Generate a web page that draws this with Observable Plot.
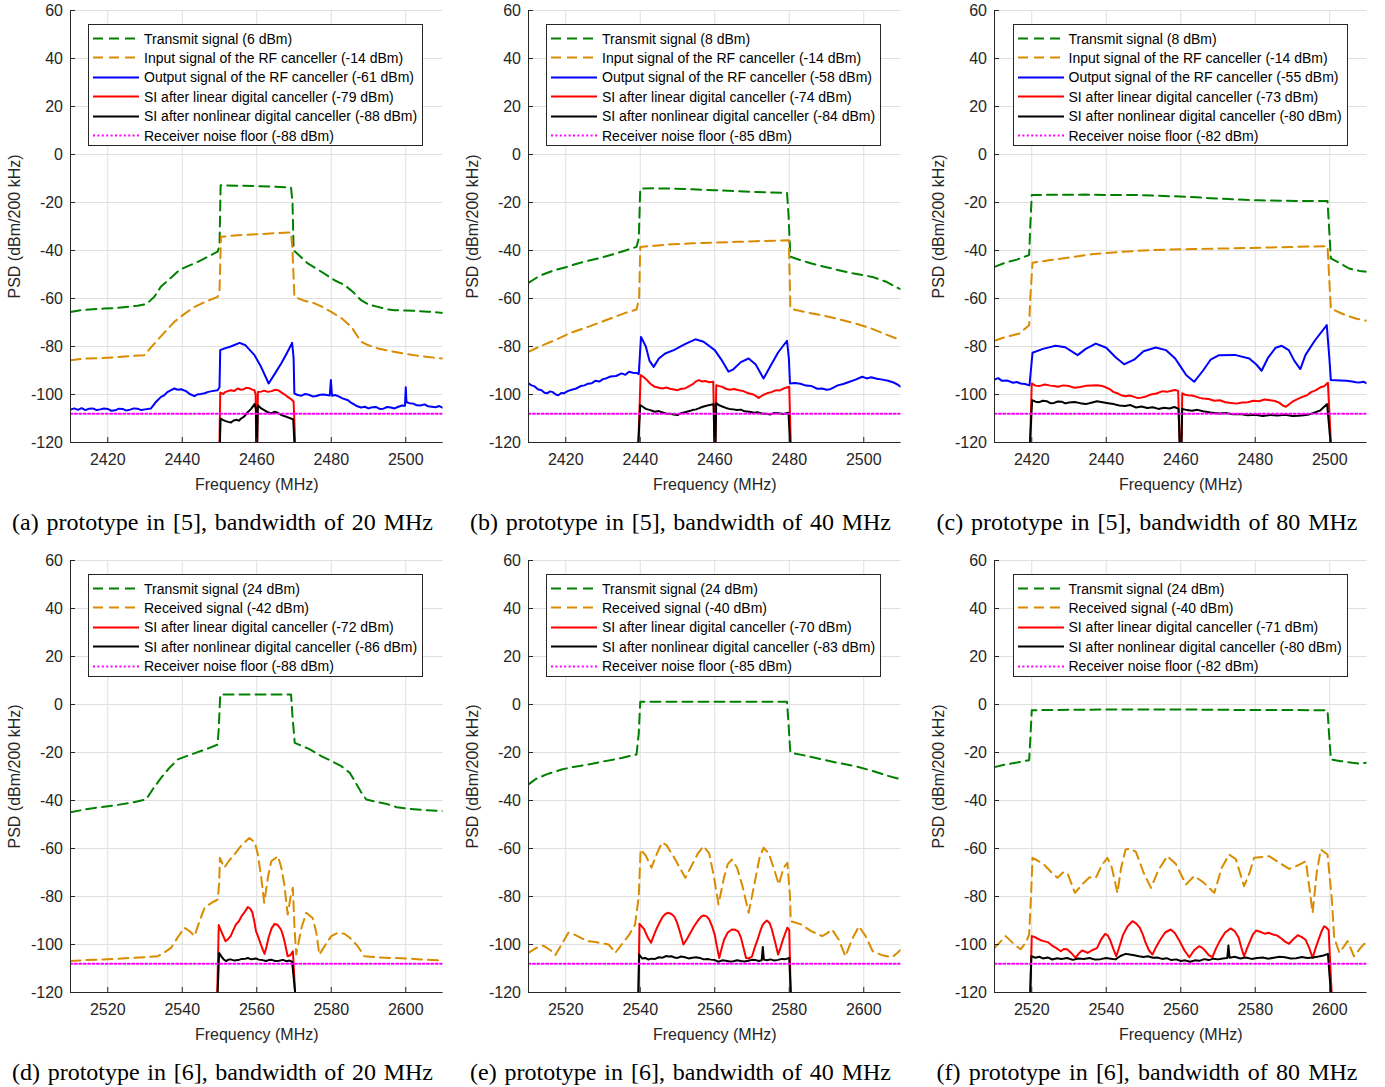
<!DOCTYPE html>
<html><head><meta charset="utf-8">
<script src="https://cdn.jsdelivr.net/npm/d3@7"></script>
<script src="https://cdn.jsdelivr.net/npm/@observablehq/plot@0.6"></script>
<style>
body{margin:0;background:#fff;}
#wrap{position:relative;width:1385px;height:1087px;overflow:hidden;background:#fff;}
.panel{position:absolute;}
.legend{position:absolute;border:1px solid #262626;background:#fff;box-sizing:border-box;font-family:"Liberation Sans",Arial,sans-serif;font-size:14px;color:#000;}
.row{position:absolute;left:0;height:19px;display:flex;align-items:center;white-space:nowrap;}
.row svg{margin-left:4px;margin-right:5px;}
.cap{position:absolute;font-family:"Liberation Serif","Times New Roman",serif;font-size:24px;line-height:28px;text-align:justify;text-align-last:justify;white-space:nowrap;color:#000;}
</style></head><body><div id="wrap"></div><script>
// ---------- ticks ----------
const yTicks = [-120,-100,-80,-60,-40,-20,0,20,40,60];
const xTicksTop = [2420,2440,2460,2480,2500];
const xTicksBot = [2520,2540,2560,2580,2600];
const xDomTop = [2410,2510];
const xDomBot = [2510,2610];

// ---------- panel (a) ----------
const aTx = [[2410,-65.6],[2413,-64.8],[2416,-64.5],[2419,-64.2],[2422,-64],[2425,-63.5],[2428,-63],[2430.3,-62.4],[2432.5,-59.3],[2434.3,-55],[2436.5,-52],[2439.2,-48.2],[2441.5,-46.5],[2444.2,-44.7],[2446.9,-42.6],[2449.5,-40.5],[2450,-38],[2450.3,-12.8],[2455,-13],[2460.3,-13.2],[2465,-13.4],[2469.2,-13.75],[2469.6,-20],[2469.9,-39.9],[2473.7,-45.4],[2476,-47.5],[2479,-50.5],[2481,-52.5],[2483.6,-54.4],[2486,-57.5],[2488,-60.7],[2490,-62.5],[2492.5,-63.5],[2495,-64.5],[2497,-64.9],[2500,-65],[2503,-65.2],[2506,-65.5],[2510,-66]];
const aIn = [[2410,-85.7],[2414,-85],[2418,-84.8],[2422,-84.5],[2426,-84],[2429.8,-83.6],[2432.5,-78.8],[2435,-74.5],[2437.9,-69.7],[2440.5,-66.5],[2443.3,-63.5],[2446,-61.5],[2449.5,-59.3],[2450,-57],[2450.4,-34.3],[2455,-33.6],[2460.3,-33.2],[2465,-32.8],[2469.2,-32.5],[2469.6,-40],[2470.1,-59.3],[2472.5,-60.8],[2475.5,-62],[2478,-63.8],[2480,-65.6],[2483,-68.5],[2485.4,-71.8],[2488,-78],[2490,-79.5],[2492.5,-80.8],[2496,-82],[2499.7,-83],[2503,-83.8],[2506,-84.4],[2510,-85]];
const aOut = [[2410,-106.3],[2411,-105.8],[2412,-106.4],[2413,-105.7],[2414,-106.5],[2415,-105.9],[2416,-105.8],[2417,-106.5],[2418,-106.2],[2419,-105.8],[2420,-106],[2421,-106.8],[2422,-106.6],[2423,-105.9],[2424,-106],[2425,-106.7],[2426,-106.3],[2427,-105.8],[2428,-105.9],[2429,-106.5],[2430,-106.2],[2431.6,-105.8],[2432.5,-104],[2433,-103],[2434.3,-101],[2435,-100.5],[2436,-99],[2437,-98.2],[2437.9,-97.5],[2438.8,-98],[2439.7,-97.8],[2441,-98.6],[2442,-99.8],[2443.3,-100.7],[2444,-100],[2445,-99.8],[2446,-99.5],[2447,-98.9],[2448,-98.6],[2449.5,-98.2],[2450,-97],[2450.2,-81.5],[2451,-81],[2453,-80],[2455.4,-78.5],[2457,-79.5],[2459.4,-83.6],[2461,-88],[2463.2,-95.4],[2465,-91],[2466.6,-87],[2468,-83],[2469.5,-78.5],[2469.9,-85],[2470.1,-99.6],[2471,-100.2],[2472,-100.5],[2473,-99.8],[2474,-100.1],[2475,-100.8],[2476,-100.6],[2477,-100.1],[2478,-100],[2479.6,-100.4],[2479.9,-94],[2480.2,-100.5],[2481,-100.2],[2482,-100.8],[2483,-101.6],[2484.5,-102.4],[2485.3,-103.4],[2486,-104],[2487,-104.9],[2488,-105.4],[2489,-105.1],[2490,-105.8],[2491,-105.3],[2492,-105.2],[2493,-106],[2494,-105.9],[2495,-105.2],[2496,-105.4],[2497,-105.8],[2498,-105.1],[2499,-104.6],[2499.8,-104.7],[2500,-97],[2500.2,-103.2],[2501,-103.6],[2502,-103.8],[2503,-104.5],[2504,-104.6],[2505,-104.1],[2506,-104.9],[2507,-105.1],[2508,-105.3],[2509,-104.8],[2510,-105.6]];
const aLin = [[2450,-120],[2450.2,-99.2],[2451,-99.8],[2451.5,-99],[2452.2,-98.6],[2453,-98.2],[2454,-98.5],[2454.9,-97.5],[2455.7,-98],[2456.5,-97.8],[2457.2,-97.2],[2458,-97.4],[2458.7,-97.9],[2459.4,-98.2],[2459.7,-100],[2459.85,-120],[2460.15,-120],[2460.3,-99],[2461.2,-98.8],[2462,-98.4],[2463,-98.9],[2464,-98.6],[2465,-98],[2465.7,-98.2],[2466.4,-98.9],[2467,-99.5],[2467.7,-100.2],[2468.3,-101],[2469.3,-102],[2469.9,-103],[2470.3,-120]];
const aNl = [[2450.1,-120],[2450.3,-110],[2451,-110.7],[2451.5,-111],[2452.3,-111.4],[2453.1,-111.7],[2453.8,-110.8],[2454.5,-110.5],[2455.2,-110.9],[2455.8,-110],[2456.6,-109.2],[2457.5,-107.5],[2458.5,-106],[2459.4,-104],[2459.8,-106],[2459.9,-120],[2460.1,-120],[2460.3,-104.5],[2461.2,-105.8],[2462,-106.5],[2463,-107.4],[2463.9,-107.9],[2464.7,-107.2],[2465.5,-107.5],[2466.3,-108.3],[2467,-108.8],[2468,-109.3],[2469.2,-110],[2469.8,-110.5],[2470.1,-120]];
const aNoise = [[2410,-108],[2510,-108]];

// ---------- panel (b) ----------
const bTx = [[2410,-53.5],[2413,-50.5],[2417,-48.2],[2420,-47],[2423,-45.5],[2426,-44.3],[2430,-42.8],[2433.3,-41.3],[2436,-40],[2439,-38.5],[2439.6,-35],[2440,-14.2],[2444,-14.1],[2448.5,-14.2],[2454,-14.5],[2460,-14.9],[2466,-15.3],[2471,-15.6],[2475,-15.8],[2479.4,-16],[2479.8,-25],[2480.3,-42.6],[2483,-44],[2486,-45.4],[2490,-47],[2493.3,-48.2],[2497,-49.5],[2502.3,-51],[2506,-53],[2509.4,-55.8],[2510,-56]];
const bIn = [[2410,-82.2],[2413,-80],[2417,-77.4],[2421,-74.5],[2426,-71.8],[2430,-69.5],[2433.3,-67.6],[2436,-66],[2439,-64.6],[2439.7,-60],[2440,-38.5],[2444,-38],[2448.5,-37.4],[2454,-37],[2460,-36.7],[2466,-36.4],[2471,-36.1],[2476,-35.9],[2479.9,-35.7],[2480.1,-50],[2480.3,-64.2],[2484,-65.6],[2488.8,-67],[2493,-68.5],[2497.8,-70.4],[2502,-72.5],[2506,-75],[2510,-77.4]];
const bOut = [[2410,-95.4],[2410.8,-96.2],[2411.5,-96.5],[2412.5,-97.8],[2413.5,-98.2],[2414.3,-99.3],[2415,-99.5],[2415.8,-98.7],[2416.5,-99],[2417.3,-100],[2418,-100.3],[2418.8,-99.4],[2419.5,-99.5],[2420.5,-98.6],[2421.6,-98],[2422.8,-97.5],[2424,-96.5],[2425,-96.2],[2426,-95.5],[2427,-95.3],[2427.9,-94.3],[2429,-94.6],[2430,-93.6],[2431,-93.2],[2432,-92.5],[2433.5,-92.3],[2435,-91.2],[2436,-91.8],[2437,-90.5],[2438,-90.9],[2439,-91],[2439.6,-91.5],[2440.2,-76],[2441.5,-80],[2442.5,-86],[2443.6,-88.5],[2445,-85],[2446.7,-82.9],[2449,-81.5],[2452,-79],[2454.8,-77],[2457,-78],[2460,-81.5],[2462,-86],[2463.7,-90.5],[2465,-89.5],[2467,-86.5],[2469.1,-85],[2471,-87.5],[2473.1,-93.3],[2475,-88],[2477,-82.5],[2479.4,-77.6],[2479.9,-85],[2480.2,-95.4],[2481.5,-95.2],[2483,-95.5],[2484.5,-96.3],[2486,-96.5],[2487.5,-97.6],[2488.8,-97.5],[2490,-98],[2491,-97.8],[2492,-97],[2493,-96.2],[2494.5,-95.6],[2496,-94.8],[2497.8,-93.8],[2499.6,-92.6],[2500.8,-93.3],[2502,-92.8],[2503.5,-93.4],[2505,-93.8],[2506.5,-94.3],[2508,-95],[2509,-95.8],[2510,-96.8]];
const bLin = [[2439.5,-120],[2440.1,-91.9],[2440.8,-92.6],[2441.5,-93.5],[2442.7,-95.5],[2443.9,-96.8],[2445,-97.2],[2446,-97.5],[2447,-97.1],[2448,-97.6],[2449,-97.9],[2450,-98.2],[2451,-97.6],[2452,-97.5],[2453,-96.6],[2454,-95.8],[2455,-94.5],[2455.7,-94],[2456.6,-94.6],[2457.5,-94.4],[2458.5,-94.9],[2459.6,-94.7],[2459.9,-120],[2460.2,-120],[2460.4,-96.1],[2461.2,-96.5],[2462,-96.8],[2463,-97.6],[2464,-98],[2465.2,-97.7],[2466.5,-98.2],[2467.7,-98.6],[2469,-99.5],[2470.4,-100],[2471.8,-101.4],[2473,-100.2],[2474,-99.5],[2475.2,-99],[2476.5,-98.2],[2477.5,-98.3],[2478.5,-97.5],[2479.3,-97.1],[2480,-96.8],[2480.4,-120]];
const bNl = [[2439.5,-120],[2440,-104.4],[2440.8,-105.2],[2441.5,-106],[2442.7,-106.5],[2443.9,-107.2],[2445,-106.9],[2446,-107.5],[2447,-107.9],[2448,-108],[2449,-108.3],[2450,-108.6],[2451,-107.8],[2452,-107.4],[2453,-107],[2454,-106.5],[2455,-106.2],[2455.7,-105.8],[2456.6,-105.2],[2457.5,-104.8],[2458.6,-104.4],[2459.7,-104],[2459.9,-120],[2460.2,-120],[2460.4,-103.6],[2461.2,-104.5],[2462,-105],[2463,-105.6],[2463.9,-106],[2465,-106.2],[2466,-106.5],[2467,-106.3],[2468,-107],[2469.3,-107.2],[2470.6,-107.6],[2471.5,-107.4],[2472.5,-107.9],[2473.8,-108],[2475,-108.3],[2476,-107.7],[2477,-107.8],[2478.5,-108.1],[2479.8,-107.6],[2480.2,-120]];
const bNoise = [[2410,-108],[2510,-108]];

// ---------- panel (c) ----------
const cTx = [[2410,-46.8],[2413,-45],[2416,-43.8],[2419.3,-41.9],[2419.6,-30],[2420,-16.9],[2425,-16.8],[2434.5,-16.7],[2442,-16.9],[2448,-16.9],[2454,-17.2],[2461.4,-17.6],[2468,-18.2],[2474.8,-18.75],[2481,-19.1],[2488,-19.3],[2494,-19.35],[2499.4,-19.4],[2499.8,-30],[2500.3,-43.3],[2503,-45.5],[2505.2,-47.5],[2508,-48.5],[2510,-48.9]];
const cIn = [[2410,-77.6],[2413,-76],[2416.7,-74.6],[2419.3,-71.1],[2419.6,-60],[2420.2,-45.1],[2425,-44],[2430,-42.9],[2436,-41.6],[2443.5,-40.6],[2450,-40],[2456.9,-39.6],[2463,-39.4],[2470.3,-39.2],[2477,-39],[2483.7,-38.75],[2491,-38.5],[2499.4,-38.2],[2499.8,-50],[2500.3,-64.2],[2504.3,-67],[2507,-68.3],[2510,-69.3]];
const cOut = [[2410,-93.75],[2411,-93.2],[2412,-94.3],[2413.5,-94.2],[2415,-95.1],[2416,-94.8],[2417,-95.4],[2418.2,-95.6],[2419.4,-96.2],[2420.2,-82.6],[2423,-81],[2426.4,-79.7],[2429,-80.3],[2432.3,-83.6],[2434.5,-81],[2437.2,-78.8],[2440,-80.5],[2442.5,-84.5],[2444.8,-87.4],[2447.5,-85.5],[2450,-82],[2453.3,-80.4],[2456,-81.5],[2458.5,-85],[2460,-88.5],[2461.5,-92],[2463.6,-94.7],[2466,-90],[2468,-85.5],[2470.3,-83.6],[2474.5,-83.5],[2478.4,-85],[2480.3,-87.5],[2481.7,-90.1],[2483.5,-84.5],[2485.5,-80.5],[2487.1,-79.7],[2489,-81.5],[2490.5,-86],[2492.1,-89.4],[2493.5,-83.5],[2496,-77.5],[2499.2,-71.1],[2499.9,-85],[2500.3,-94],[2501.5,-94.1],[2503,-94.2],[2504.5,-94.3],[2506,-94.6],[2507,-94.9],[2508,-95],[2509,-94.7],[2510,-95.4]];
const cLin = [[2419.55,-120],[2420,-95.4],[2421,-96.3],[2422,-96.5],[2423.5,-95.8],[2425,-96.3],[2426,-96.5],[2427,-96.8],[2428.5,-96.2],[2430,-96.5],[2431.5,-97.2],[2433,-96.9],[2434.5,-96.4],[2436,-96.2],[2437.5,-96.1],[2439,-96.5],[2440,-97.1],[2441,-97.8],[2442,-99],[2443,-99.5],[2444,-100.3],[2445.2,-100.7],[2446.3,-100.4],[2447.5,-101],[2448.5,-101.5],[2449.4,-101.3],[2450.7,-100.8],[2452,-100],[2453.5,-99.6],[2455.1,-98.6],[2456.3,-98.9],[2457.5,-98.4],[2458.5,-98.1],[2459.3,-98.5],[2459.7,-120],[2460.2,-120],[2460.4,-99.5],[2461.2,-100.1],[2462,-100.3],[2463,-100.4],[2464,-100.8],[2465,-101.4],[2466,-101.7],[2467.5,-101.9],[2469,-102.6],[2470.5,-102.4],[2472,-103.2],[2473.5,-103.5],[2475,-103.8],[2476.5,-103.3],[2478,-103.2],[2479.5,-102.6],[2481,-102.8],[2482.5,-102.1],[2484,-102.4],[2485.3,-102.7],[2486.5,-103.5],[2487.4,-104.6],[2488.2,-105.1],[2489,-104.2],[2490,-103],[2491.2,-102],[2492.6,-101],[2493.8,-100.4],[2495,-99],[2496.2,-98.3],[2497.5,-97],[2498.5,-96.6],[2499.5,-95.1],[2500.3,-120]];
const cNl = [[2419.55,-120],[2420.1,-102.4],[2421,-103],[2422,-103.2],[2423,-102.6],[2424,-102.8],[2425,-103.6],[2426,-103.5],[2427,-102.9],[2428,-103],[2429,-103.7],[2430,-103.3],[2431.5,-103.1],[2433,-103.6],[2434.5,-104],[2436,-103.4],[2437.5,-102.8],[2439,-103.2],[2440.5,-103.6],[2442,-104],[2443.5,-104.6],[2445,-104.8],[2446.5,-104.4],[2448,-105.4],[2449.5,-105],[2451,-105.6],[2452.5,-105.3],[2454,-106],[2455.5,-105.5],[2457,-105.8],[2458.3,-105.2],[2459.4,-106],[2459.7,-120],[2460.2,-120],[2460.4,-106],[2461.7,-106.5],[2463,-106.8],[2464.5,-106.4],[2466,-107],[2468,-107.5],[2470.3,-107.9],[2472,-107.7],[2474,-108.2],[2476,-108.1],[2478,-108.6],[2480,-108.4],[2482,-109],[2484,-108.5],[2486,-108.8],[2488,-108.4],[2490,-109],[2491.5,-108.9],[2493,-108.6],[2494.5,-108.3],[2496,-107.5],[2497.5,-106.6],[2499.3,-104],[2500.2,-120]];
const cNoise = [[2410,-108],[2510,-108]];

// ---------- panel (d) ----------
const dTx = [[2510,-44.9],[2513,-44],[2516,-43.2],[2519,-42.6],[2522,-42],[2526,-41],[2530.3,-39.6],[2532,-35.5],[2534.3,-30.6],[2536.5,-26.5],[2538.8,-22.9],[2542,-21],[2545,-19.4],[2547,-18.3],[2549.5,-16.7],[2549.8,-10],[2550.2,4.2],[2555,4.2],[2560,4.2],[2565,4.2],[2569.2,4.2],[2569.6,-5],[2570.2,-16],[2574,-18.5],[2577.3,-21.5],[2580,-23.5],[2582.7,-25.7],[2585,-28.5],[2586.3,-31.9],[2588,-36.5],[2589.4,-39.6],[2592,-40.5],[2595,-41.5],[2597.6,-42.8],[2601,-43.5],[2605,-44],[2610,-44.4]];
const dRx = [[2510,-106.9],[2514,-106.5],[2518,-106.3],[2522,-106],[2526,-105.6],[2530,-105.3],[2533.4,-104.9],[2535,-103.5],[2537,-101.4],[2538.8,-97],[2540.6,-93],[2542,-94.5],[2543.3,-96.5],[2544.7,-90],[2546,-84.7],[2548,-82.5],[2549.5,-81.25],[2549.9,-75],[2550.1,-63.9],[2551.3,-68],[2552.6,-65],[2554,-62.5],[2556,-58.5],[2558,-55.6],[2559.5,-57.5],[2560.3,-62.5],[2561.2,-72],[2562,-82.6],[2563,-72],[2563.9,-65.3],[2565.7,-63.2],[2566.6,-68],[2567.4,-75],[2568.3,-87.5],[2569.1,-80],[2569.7,-76.4],[2570.1,-92],[2570.6,-104.2],[2572,-93],[2573.3,-86.8],[2575,-89],[2576,-95],[2576.8,-104.2],[2578.5,-100],[2580,-96.5],[2581.8,-95.1],[2583.5,-95.5],[2585,-97.2],[2587,-100.5],[2588.9,-104.9],[2592,-105.3],[2596,-105.6],[2600,-105.8],[2604,-106.2],[2607,-106.5],[2610,-106.7]];
const dLin = [[2549.4,-120],[2549.8,-91.9],[2550.6,-95],[2551.6,-98.6],[2552.3,-97.8],[2553,-96.5],[2553.7,-94],[2554.4,-91.7],[2555.2,-90.3],[2556,-88],[2556.8,-86.4],[2557.6,-84.4],[2558.2,-85],[2558.8,-86.5],[2559.3,-90],[2559.8,-94.4],[2560.4,-96.8],[2561,-99.5],[2561.6,-102],[2562.1,-103.9],[2562.6,-101],[2563.2,-97],[2564,-93.2],[2564.8,-91.4],[2565.6,-91.8],[2566.5,-93.75],[2567,-96],[2567.5,-99],[2568.3,-104.9],[2569,-104.5],[2569.7,-102.8],[2570.3,-120]];
const dNl = [[2549.5,-120],[2549.9,-103.5],[2550.5,-105],[2551.2,-106.3],[2551.8,-106.9],[2552.4,-106.3],[2553,-106.2],[2554,-106.7],[2555,-106.5],[2556,-106],[2557,-105.9],[2557.6,-105.6],[2558.3,-106.1],[2559,-106],[2559.8,-105.8],[2560.5,-106.3],[2561.5,-106.5],[2562.5,-106.9],[2563.2,-106.5],[2564,-106.4],[2565,-106.9],[2566,-106.8],[2567,-106.4],[2568,-107],[2568.8,-106.7],[2569.5,-107.2],[2570.3,-120]];
const dNoise = [[2510,-108],[2610,-108]];

// ---------- panel (e) ----------
const eTx = [[2510,-33.3],[2512,-31],[2515,-29],[2518.9,-27.1],[2522,-26],[2526,-25],[2530.6,-23.6],[2535,-22.3],[2539,-20.8],[2539.6,-12],[2540,1.1],[2550,1.1],[2560,1.1],[2570,1.1],[2579.4,1.1],[2579.8,-8],[2580.3,-20.1],[2584,-21.2],[2588.8,-22.9],[2593,-24.3],[2597.8,-25.7],[2602,-27.5],[2606,-29.5],[2610,-31.25]];
const eRx = [[2510,-103.5],[2512,-101.5],[2514,-100.5],[2516,-102.5],[2517.2,-104.4],[2518.5,-101],[2520.7,-95.1],[2522.5,-96],[2525.8,-98.6],[2528,-99],[2531.5,-100],[2532.6,-102],[2533.3,-103.5],[2535,-100],[2537,-96],[2538.6,-91.7],[2539.6,-80],[2540.1,-60.4],[2541.5,-63],[2543,-68],[2544.5,-62],[2545.8,-57.6],[2547,-58.5],[2549,-63.5],[2552.1,-72.2],[2553.5,-68],[2555.5,-62],[2557,-59],[2558.5,-62],[2559.8,-72],[2561,-83.3],[2562.5,-72],[2563.5,-66.5],[2564.6,-64.6],[2566,-68],[2567.5,-76],[2569.1,-86.8],[2570.5,-76],[2572,-64],[2573.1,-59.7],[2574.5,-62],[2576,-69],[2577.2,-75],[2578.5,-68],[2579.5,-66],[2580.2,-80],[2580.4,-90.3],[2583,-91.5],[2586,-94.5],[2588.8,-96.5],[2590,-95.5],[2591.5,-93.75],[2593.3,-98],[2595.1,-104.9],[2596.8,-98],[2598.7,-92.4],[2600.5,-96.5],[2602.4,-102.8],[2605,-104.5],[2607.6,-105.3],[2609,-103.5],[2610,-102.1]];
const eLin = [[2539.5,-120],[2539.8,-91.4],[2541,-93.5],[2542,-97],[2542.9,-99.3],[2543.7,-96],[2544.5,-93],[2545.3,-90.5],[2546,-88.5],[2546.8,-87.2],[2547.6,-86.8],[2548.4,-87.3],[2549.2,-88.5],[2549.9,-91],[2550.5,-94],[2551.6,-100],[2552.5,-97.8],[2553.5,-95],[2554.5,-92.3],[2555.5,-90],[2556.3,-88.5],[2557,-87.9],[2557.8,-88.3],[2558.5,-89.5],[2559.3,-92.5],[2560,-96],[2560.6,-101],[2561.2,-105.6],[2561.8,-102],[2562.5,-98],[2563.5,-95],[2564.6,-93.75],[2565.5,-93.9],[2566.3,-94.5],[2567,-97],[2567.5,-100],[2568.4,-105.6],[2569.2,-105.8],[2570,-105],[2570.8,-101],[2571.5,-98],[2572.2,-94.5],[2572.8,-92],[2573.4,-90.8],[2574,-90],[2574.7,-91],[2575.3,-93.5],[2576.2,-99],[2577,-104.2],[2577.6,-101.5],[2578.3,-98],[2579,-95],[2579.5,-93],[2580,-94],[2580.4,-120]];
const eNl = [[2539.5,-120],[2539.7,-104.2],[2540.5,-105.8],[2541.3,-105.6],[2542.2,-106.25],[2543,-105.9],[2544,-106],[2545,-105.3],[2546,-105.5],[2547,-104.8],[2547.5,-105],[2548.4,-104.9],[2549.2,-105.4],[2550,-105.6],[2551,-105],[2552,-105.3],[2553,-105.8],[2554,-105.5],[2555,-105.3],[2556,-105.6],[2557,-106.2],[2558,-106],[2559,-106.3],[2560,-106.5],[2561,-107.2],[2562,-106.6],[2563,-106.8],[2564,-107.1],[2565,-107],[2566,-106.6],[2567,-106.9],[2568,-107.1],[2569,-106.8],[2570,-106.4],[2571,-106.5],[2571.8,-106.9],[2572.6,-106.6],[2572.9,-101],[2573.2,-106.3],[2574,-106.6],[2575,-106.2],[2576,-106.7],[2577,-106.4],[2578,-106],[2579,-106.1],[2580,-105.6],[2580.4,-120]];
const eNoise = [[2510,-108],[2610,-108]];

// ---------- panel (f) ----------
const fTx = [[2510,-26.1],[2513,-25],[2516,-24.2],[2519.3,-23.2],[2519.6,-15],[2520,-2.4],[2530,-2.2],[2540,-2.1],[2550,-2.1],[2561.4,-2.1],[2570,-2.2],[2580,-2.3],[2590,-2.3],[2599.4,-2.4],[2599.8,-12],[2600.3,-22.9],[2603,-23.6],[2606.1,-24.3],[2608,-24.6],[2610,-24.3]];
const fRx = [[2510,-101.4],[2511.5,-99],[2513,-96.5],[2515,-99.5],[2517,-102],[2518.5,-99],[2519.3,-95.8],[2519.8,-80],[2520.2,-63.9],[2521.5,-65],[2523.3,-66.7],[2525,-69.5],[2526.9,-72.2],[2528.4,-70],[2529.6,-70.3],[2530.5,-74],[2531.6,-78.5],[2533.5,-75],[2535.5,-72],[2537.2,-72.2],[2538.8,-67],[2540.3,-63.9],[2541.5,-68],[2543,-78.5],[2544,-68],[2545.2,-60.4],[2546.5,-60],[2548,-61.5],[2550,-70],[2552,-76.4],[2554,-69],[2556.4,-63.2],[2558.7,-66.5],[2561.4,-75],[2563.6,-71.5],[2566,-74],[2569,-78.5],[2571,-68],[2573,-62.5],[2574.8,-64.5],[2577,-75.7],[2578.5,-70],[2579.7,-63.9],[2583.7,-63.2],[2589.1,-68.5],[2591.5,-67],[2593.6,-65.3],[2595.4,-86.8],[2596.5,-70],[2597.6,-60.4],[2599.4,-62.5],[2600.5,-80],[2601.2,-97.2],[2602.6,-103.5],[2604.8,-98.6],[2606.5,-104.9],[2608.5,-101],[2610,-98.6]];
const fLin = [[2519.6,-120],[2520,-96.5],[2520.8,-96.9],[2521.5,-97.5],[2522.4,-98.2],[2523.3,-98.6],[2524.4,-99.1],[2525.5,-100.5],[2526.7,-101.6],[2527.8,-102.8],[2528.6,-101.9],[2529.5,-102],[2530.6,-103.5],[2531.8,-105.6],[2532.6,-103.8],[2533.5,-102.5],[2534.2,-102.9],[2535,-103.5],[2536.2,-102.4],[2537.5,-101.5],[2538.6,-98],[2539.7,-95.6],[2540.4,-96.2],[2541,-98],[2541.9,-101.8],[2542.7,-104.9],[2543.6,-100.5],[2544.5,-96],[2545.7,-92.5],[2547,-90.3],[2548,-91.2],[2549,-93],[2549.8,-95.8],[2550.5,-99],[2551.5,-102.5],[2552.4,-104.2],[2553.4,-101],[2554.5,-98],[2555.8,-95],[2557.3,-93.75],[2558.4,-95.2],[2559.5,-98],[2561,-102.5],[2562.3,-105.3],[2563.6,-102.4],[2564.9,-100.7],[2565.7,-101.3],[2566.5,-102.5],[2567.5,-104.4],[2568.5,-105.3],[2569.5,-101.5],[2570.5,-98.5],[2571.9,-95],[2573.4,-93.3],[2574.5,-94.5],[2575.5,-97],[2576.3,-101.5],[2577,-104.9],[2577.8,-101.6],[2578.5,-99],[2579.3,-96],[2580.2,-94.2],[2581.3,-94.7],[2582.5,-95.5],[2583.6,-95.1],[2584.7,-95.8],[2585.8,-96.2],[2587,-97.5],[2588,-98.8],[2589.1,-99.7],[2590.2,-97.8],[2591.4,-96.1],[2592.4,-96.8],[2593.5,-98],[2594.5,-101.5],[2595.4,-105.6],[2596.2,-101.5],[2597,-98],[2597.8,-94.5],[2598.5,-92.4],[2599.1,-93],[2599.7,-94],[2600.5,-120]];
const fNl = [[2519.6,-120],[2519.9,-104.9],[2521,-105.5],[2522,-105.1],[2523,-105.8],[2524.3,-105.4],[2525.5,-106.25],[2526.8,-105.7],[2528,-106],[2529.5,-105.6],[2531,-106.4],[2532.5,-105.8],[2534,-106],[2535.5,-105.6],[2537,-106.3],[2538.5,-106.1],[2540,-105.6],[2541.2,-105.9],[2542.5,-106.2],[2543.8,-104.8],[2545.2,-103.9],[2546.3,-104.2],[2547.5,-104.5],[2548.8,-104.9],[2550,-105.2],[2551.2,-104.9],[2552.5,-105.5],[2553.7,-105.4],[2555,-106],[2556.2,-105.7],[2557.5,-106.5],[2558.8,-106.2],[2560,-106.9],[2561.2,-106.6],[2562.5,-107.2],[2563.8,-106.6],[2565,-106.8],[2566.3,-106.1],[2567.5,-106.5],[2568.8,-105.9],[2570,-106.2],[2571.3,-105.8],[2572.5,-105.6],[2572.8,-100.4],[2573.1,-105.5],[2574.5,-105.1],[2576,-105.8],[2577.5,-105.4],[2579,-106],[2580.5,-105.6],[2582,-105.4],[2583.5,-105.9],[2585,-105.5],[2586.5,-105.1],[2588,-105.3],[2589.5,-105.8],[2591,-105.7],[2592.5,-105.2],[2594,-105.6],[2595.5,-105.4],[2597,-105],[2598.3,-104.6],[2599.5,-103.9],[2600.3,-120]];
const fNoise = [[2510,-108],[2610,-108]];

// ---------- legend labels ----------
const legA = ["Transmit signal (6 dBm)","Input signal of the RF canceller (-14 dBm)","Output signal of the RF canceller (-61 dBm)","SI after linear digital canceller (-79 dBm)","SI after nonlinear digital canceller (-88 dBm)","Receiver noise floor (-88 dBm)"];
const legB = ["Transmit signal (8 dBm)","Input signal of the RF canceller (-14 dBm)","Output signal of the RF canceller (-58 dBm)","SI after linear digital canceller (-74 dBm)","SI after nonlinear digital canceller (-84 dBm)","Receiver noise floor (-85 dBm)"];
const legC = ["Transmit signal (8 dBm)","Input signal of the RF canceller (-14 dBm)","Output signal of the RF canceller (-55 dBm)","SI after linear digital canceller (-73 dBm)","SI after nonlinear digital canceller (-80 dBm)","Receiver noise floor (-82 dBm)"];
const legD = ["Transmit signal (24 dBm)","Received signal (-42 dBm)","SI after linear digital canceller (-72 dBm)","SI after nonlinear digital canceller (-86 dBm)","Receiver noise floor (-88 dBm)"];
const legE = ["Transmit signal (24 dBm)","Received signal (-40 dBm)","SI after linear digital canceller (-70 dBm)","SI after nonlinear digital canceller (-83 dBm)","Receiver noise floor (-85 dBm)"];
const legF = ["Transmit signal (24 dBm)","Received signal (-40 dBm)","SI after linear digital canceller (-71 dBm)","SI after nonlinear digital canceller (-80 dBm)","Receiver noise floor (-82 dBm)"];

const captions = ["(a) prototype in [5], bandwidth of 20 MHz","(b) prototype in [5], bandwidth of 40 MHz","(c) prototype in [5], bandwidth of 80 MHz","(d) prototype in [6], bandwidth of 20 MHz","(e) prototype in [6], bandwidth of 40 MHz","(f) prototype in [6], bandwidth of 80 MHz"];

// ---------- styles ----------
const ST = {
  tx:{stroke:"#008000", width:2, dash:"10,6"},
  inp:{stroke:"#D98C00", width:2, dash:"10,6"},
  out:{stroke:"#0000FF", width:2, dash:null},
  lin:{stroke:"#FF0000", width:2, dash:null},
  nl:{stroke:"#000000", width:2, dash:null},
  noise:{stroke:"#FF00FF", width:2, dash:"2,2.4"}
};

const panels = [
  {x0:69.5, y0:10, dom:xDomTop, ticks:xTicksTop, series:[[aTx,"tx"],[aIn,"inp"],[aOut,"out"],[aLin,"lin"],[aNl,"nl"],[aNoise,"noise"]], leg:legA, cap:captions[0]},
  {x0:527.5, y0:10, dom:xDomTop, ticks:xTicksTop, series:[[bTx,"tx"],[bIn,"inp"],[bOut,"out"],[bLin,"lin"],[bNl,"nl"],[bNoise,"noise"]], leg:legB, cap:captions[1]},
  {x0:994, y0:10, dom:xDomTop, ticks:xTicksTop, series:[[cTx,"tx"],[cIn,"inp"],[cOut,"out"],[cLin,"lin"],[cNl,"nl"],[cNoise,"noise"]], leg:legC, cap:captions[2]},
  {x0:69.5, y0:560, dom:xDomBot, ticks:xTicksBot, series:[[dTx,"tx"],[dRx,"inp"],[dLin,"lin"],[dNl,"nl"],[dNoise,"noise"]], leg:legD, cap:captions[3]},
  {x0:527.5, y0:560, dom:xDomBot, ticks:xTicksBot, series:[[eTx,"tx"],[eRx,"inp"],[eLin,"lin"],[eNl,"nl"],[eNoise,"noise"]], leg:legE, cap:captions[4]},
  {x0:994, y0:560, dom:xDomBot, ticks:xTicksBot, series:[[fTx,"tx"],[fRx,"inp"],[fLin,"lin"],[fNl,"nl"],[fNoise,"noise"]], leg:legF, cap:captions[5]}
];

const wrap = document.getElementById("wrap");
const ML = 70, MR = 10, MT = 10, MB = 58, FW = 372.5, FH = 432;
const axisColor = "#262626";

for (const p of panels) {
  const marks = [
    Plot.gridX(p.ticks, {stroke:"#dfdfdf", strokeOpacity:1, strokeWidth:1}),
    Plot.gridY(yTicks, {stroke:"#dfdfdf", strokeOpacity:1, strokeWidth:1}),
  ];
  for (const [data, key] of p.series) {
    const s = ST[key];
    marks.push(Plot.line(data, {x: d => d[0], y: d => d[1], stroke: s.stroke, strokeWidth: s.width, strokeDasharray: s.dash, clip: true}));
  }
  marks.push(
    Plot.axisX(p.ticks, {tickSize:-5, tickPadding:16, tickFormat: d => String(d), stroke: axisColor, fill: axisColor, label: "Frequency (MHz)", labelArrow: "none", labelAnchor:"center", labelOffset: 47}),
    Plot.axisY(yTicks, {tickSize:-5, tickPadding:12.5, tickFormat: d => String(d), stroke: axisColor, fill: axisColor, label: "PSD (dBm/200 kHz)", labelArrow: "none", labelAnchor:"center", labelOffset: 62}),
    Plot.ruleX([p.dom[0]], {stroke: axisColor, strokeWidth:1}),
    Plot.ruleY([-120], {stroke: axisColor, strokeWidth:1})
  );
  const svg = Plot.plot({
    width: ML + FW + MR, height: MT + FH + MB,
    marginLeft: ML, marginRight: MR, marginTop: MT, marginBottom: MB,
    x: {domain: p.dom},
    y: {domain: [-120, 60]},
    style: {fontFamily: '"Liberation Sans", Arial, sans-serif', fontSize: "16px", color: axisColor, background: "transparent", overflow: "visible"},
    marks
  });
  const holder = document.createElement("div");
  holder.className = "panel";
  holder.style.left = (p.x0 - ML) + "px";
  holder.style.top = (p.y0 - MT) + "px";
  holder.appendChild(svg);
  wrap.appendChild(holder);

  // legend
  const lg = document.createElement("div");
  lg.className = "legend";
  const n = p.leg.length;
  const rowH = 19.4;
  lg.style.left = (p.x0 + 18.5) + "px";
  lg.style.top = (p.y0 + 14) + "px";
  lg.style.width = "335px";
  lg.style.height = (n * rowH + 6) + "px";
  const keys = p.series.map(s => s[1]);
  p.leg.forEach((txt, i) => {
    const s = ST[keys[i]];
    const row = document.createElement("div");
    row.className = "row";
    row.style.top = (4 + i * rowH) + "px";
    const ns = "http://www.w3.org/2000/svg";
    const sv = document.createElementNS(ns, "svg");
    sv.setAttribute("width", "46"); sv.setAttribute("height", "19");
    const ln = document.createElementNS(ns, "line");
    ln.setAttribute("x1", "0"); ln.setAttribute("x2", "46");
    ln.setAttribute("y1", "9.5"); ln.setAttribute("y2", "9.5");
    ln.setAttribute("stroke", s.stroke); ln.setAttribute("stroke-width", s.width);
    if (s.dash) ln.setAttribute("stroke-dasharray", s.dash);
    sv.appendChild(ln);
    row.appendChild(sv);
    const sp = document.createElement("span");
    sp.textContent = txt;
    row.appendChild(sp);
    lg.appendChild(row);
  });
  wrap.appendChild(lg);

  // caption
  const cp = document.createElement("div");
  cp.className = "cap";
  cp.textContent = p.cap;
  cp.style.left = (p.x0 - 57.5) + "px";
  cp.style.width = "421px";
  cp.style.top = (p.y0 + 498) + "px";
  wrap.appendChild(cp);
}
</script></body></html>
